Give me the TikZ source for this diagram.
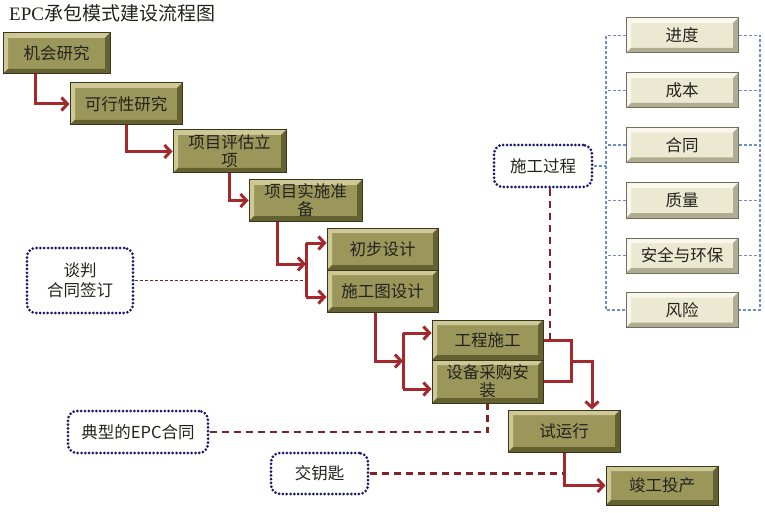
\documentclass[tikz,border=0pt]{standalone}
\usepackage{fontspec}
\setmainfont{Liberation Serif}
\newfontfamily\cjk{Noto Sans CJK SC}
\usetikzlibrary{arrows.meta,calc}
\definecolor{olivefill}{RGB}{155,150,90}
\definecolor{olivelight}{RGB}{205,200,150}
\definecolor{olivedark}{RGB}{100,96,48}
\definecolor{oliveborder}{RGB}{55,55,28}
\definecolor{beigefill}{RGB}{236,233,210}
\definecolor{beigelight}{RGB}{250,248,236}
\definecolor{beigedark}{RGB}{175,172,145}
\definecolor{beigeborder}{RGB}{110,110,95}
\definecolor{arrred}{RGB}{165,40,45}
\definecolor{dashred}{RGB}{130,35,35}
\definecolor{navy}{RGB}{25,25,110}
\definecolor{bluedash}{RGB}{110,140,200}
\definecolor{txt}{RGB}{35,35,30}
\tikzset{
  bevel/.style 2 args={path picture={
    \fill[#1] (path picture bounding box.north west) -- (path picture bounding box.north east) -- ++(-5,5) -- ($(path picture bounding box.north west)+(5,5)$) -- cycle;
    \fill[#1] (path picture bounding box.north west) -- (path picture bounding box.south west) -- ++(5,-5) -- ($(path picture bounding box.north west)+(5,5)$) -- cycle;
    \fill[#2] (path picture bounding box.south west) -- (path picture bounding box.south east) -- ++(-5,-5) -- ($(path picture bounding box.south west)+(5,-5)$) -- cycle;
    \fill[#2] (path picture bounding box.north east) -- (path picture bounding box.south east) -- ++(-5,-5) -- ($(path picture bounding box.north east)+(-5,5)$) -- cycle;
  }},
  stagebox/.style={draw=oliveborder, line width=1pt, fill=olivefill, bevel={olivelight}{olivedark},
    minimum width=112pt, minimum height=42pt, inner sep=0pt, align=center, text=txt,
    font=\cjk\fontsize{16.5}{18}\selectfont},
  ctrlbox/.style={draw=beigeborder, line width=1pt, fill=beigefill, bevel={beigelight}{beigedark},
    minimum width=112pt, minimum height=35pt, inner sep=0pt, align=center, text=txt,
    font=\cjk\fontsize{16.5}{18}\selectfont},
  notebox/.style={draw=navy, line width=3pt, dash pattern=on 0pt off 3.8pt, line cap=round,
    rounded corners=9pt, inner sep=0pt, align=center, text=txt,
    font=\cjk\fontsize{16.5}{20}\selectfont},
  arr/.style={draw=arrred, line width=3pt, -{Straight Barb[length=6pt,width=13pt]}},
  redline/.style={draw=arrred, line width=3pt},
  reddash/.style={draw=dashred, line width=2.2pt, dash pattern=on 7pt off 5pt},
  thindash/.style={draw=dashred, line width=1pt, dash pattern=on 3pt off 2pt},
  bluedashed/.style={draw=bluedash, line width=1.2pt, dash pattern=on 3pt off 2pt},
}
\begin{document}
\begin{tikzpicture}[x=1pt,y=-1pt]
\useasboundingbox (0,0) rectangle (765,513);
% title
\node[anchor=west, inner sep=0pt, text=txt, font=\fontsize{19}{21}\selectfont] (title) at (9,13) {EPC{\cjk 承包模式建设流程图}};
% stage boxes
\node[stagebox, minimum width=107pt, minimum height=41pt] (n1) at (56.5,53.5) {机会研究};
\node[stagebox] (n2) at (126,104) {可行性研究};
\node[stagebox, minimum width=113pt, minimum height=43pt] (n3) at (229.5,151.5) {项目评估立\\项};
\node[stagebox, minimum width=113pt, minimum height=41pt] (n4) at (305.5,200.5) {项目实施准\\备};
\node[stagebox, minimum width=111pt] (n5) at (382.5,249) {初步设计};
\node[stagebox, minimum width=111pt] (n6) at (382.5,291) {施工图设计};
\node[stagebox, minimum width=111pt, minimum height=40pt] (n7) at (487.5,340) {工程施工};
\node[stagebox, minimum width=111pt, minimum height=43pt] (n8) at (487.5,381.5) {设备采购安\\装};
\node[stagebox] (n9) at (564,431) {试运行};
\node[stagebox, minimum height=39pt] (n10) at (662,485.5) {竣工投产};
% control boxes
\node[ctrlbox] (r1) at (682,35.5) {进度};
\node[ctrlbox] (r2) at (682,90.5) {成本};
\node[ctrlbox] (r3) at (682,145) {合同};
\node[ctrlbox] (r4) at (682,200.5) {质量};
\node[ctrlbox] (r5) at (682,255.5) {安全与环保};
\node[ctrlbox] (r6) at (682,310) {风险};
% note boxes
\node[notebox, minimum width=106pt, minimum height=65pt] (d1) at (80,280.5) {谈判\\合同签订};
\node[notebox, minimum width=98pt, minimum height=42pt] (d2) at (543,166) {施工过程};
\node[notebox, minimum width=140pt, minimum height=42pt] (d3) at (138,432) {典型的EPC合同};
\node[notebox, minimum width=97pt, minimum height=41pt] (d4) at (319.5,473.5) {交钥匙};
% coordinates
\coordinate (a1s) at ($(n1.south)+(-21.5,0)$);
\coordinate (a4s) at ($(n4.south)+(-28.5,0)$);
\coordinate (b1m) at (306,264);
\coordinate (b1t) at (306,243);
\coordinate (b1b) at (306,297);
\coordinate (a5s) at ($(n6.south)+(-7.5,0)$);
\coordinate (b2m) at (403,361);
\coordinate (b2t) at (403,333);
\coordinate (b2b) at (403,389);
\coordinate (j) at (571,361);
\coordinate (k) at ($(n9.north)+(28,0)$);
\coordinate (d2s) at ($(d2.south)+(7,0)$);
\coordinate (L) at (606,0);
\coordinate (R) at (760,0);
% flow arrows
\draw[arr] (a1s) |- (n2.west);
\draw[arr] (n2.south) |- (n3.west);
\draw[arr] (n3.south) |- (n4.west);
\draw[arr] (a4s) |- (b1m);
\draw[redline] (b1t) -- (b1b);
\draw[arr] (b1t) -- (b1t -| n5.west);
\draw[arr] (b1b) -- (b1b -| n6.west);
\draw[arr] (a5s) |- (b2m);
\draw[redline] (b2t) -- (b2b);
\draw[arr] (b2t) -- (b2t -| n7.west);
\draw[arr] (b2b) -- (b2b -| n8.west);
\draw[redline] (n7.east) -| (j |- n8.east) -- (n8.east);
\draw[redline] (j |- n7.east) -- (j);
\draw[arr] (j) -| (k);
\draw[arr] (n9.south) |- (n10.west);
% dashed links
\draw[thindash] (d1.east) -- (d1.east -| b1t);
\draw[reddash] (d2s) -- (d2s |- n7.east);
\draw[reddash] (d3.east) -| (n8.south);
\draw[reddash] (d4.east) -- (d4.east -| n9.south);
% blue brackets
\draw[bluedashed] (r1.west) -- (r1.west -| L) -- (r6.west -| L) -- (r6.west);
\draw[bluedashed] (r1.east) -- (r1.east -| R) -- (r6.east -| R) -- (r6.east);
\foreach \r in {r2,r3,r4,r5}{
  \draw[bluedashed] (\r.west) -- (\r.west -| L);
  \draw[bluedashed] (\r.east) -- (\r.east -| R);
}
\draw[bluedashed] (d2.east) -- (d2.east -| L);
\end{tikzpicture}
\end{document}
